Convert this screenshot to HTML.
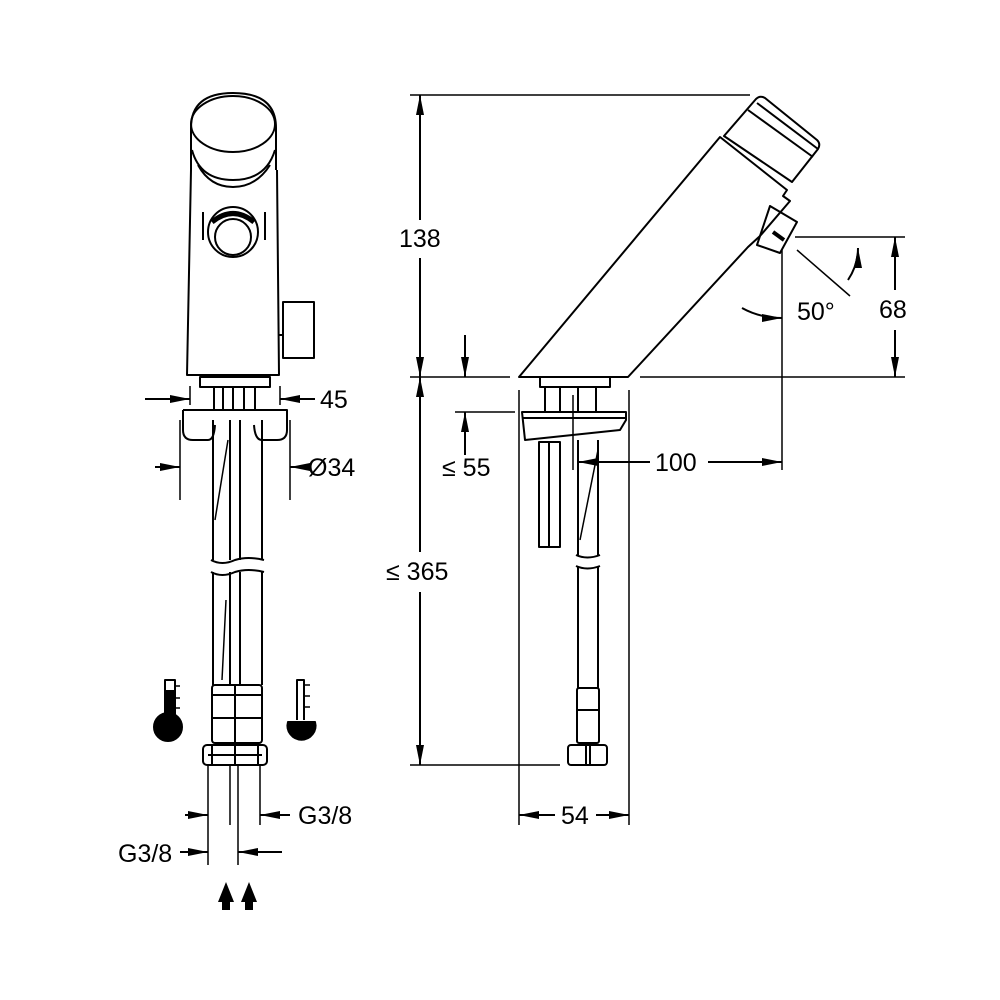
<!DOCTYPE html>
<html><head><meta charset="utf-8"><style>html,body{margin:0;background:#fff}svg{display:block}text{font-family:"Liberation Sans",sans-serif;font-size:25px;fill:#000}</style></head><body>
<svg width="1000" height="1000" viewBox="0 0 1000 1000" xmlns="http://www.w3.org/2000/svg">
<defs><marker id="a" viewBox="0 0 20 8" refX="20" refY="4" markerWidth="20" markerHeight="8" markerUnits="userSpaceOnUse" orient="auto-start-reverse"><path d="M0,0 L20,4 L0,8 Z" fill="#000"/></marker></defs>
<g fill="none" stroke="#000" stroke-width="2" stroke-linejoin="round">
<!-- LEFT VIEW -->
<path d="M191,170 L191,128 Q191,93 233,93 Q276,93 276,128 L276,170"/>
<ellipse cx="233" cy="124" rx="42" ry="28"/>
<path d="M192,150 Q200,180 233,180 Q266,180 275,150"/>
<path d="M198,165 Q210,187 233,187 Q256,187 270,165"/>
<path d="M191,170 L187,375 L279,375 L277,170"/>
<path d="M203,212 L203,240 M265,212 L265,240"/>
<circle cx="233" cy="232" r="25"/><circle cx="233" cy="237" r="18"/>
<path d="M212,222 Q233,205 254,222" stroke-width="5"/>
<rect x="283" y="302" width="31" height="56"/>
<path d="M279,335 L283,335"/>
<rect x="200" y="377" width="70" height="10"/>
<path d="M214,387 V410 M223,387 V410 M233,387 V410 M244,387 V410 M255,387 V410"/>
<path d="M183,410 H287 V430 Q287,440 277,440 H262 Q255,440 254,425 M183,410 V430 Q183,440 193,440 H208 Q214,440 215,425"/>
<path d="M213,420 V560 M230,420 V560 M240,420 V560 M262,420 V560"/>
<path d="M213,572 V685 M230,572 V685 M240,572 V685 M262,572 V685"/>
<path d="M211,560 Q222,566 235,560 Q248,556 264,560 M211,572 Q222,578 235,572 Q248,568 264,572"/>
<path d="M228,440 L215,520 M226,600 L222,680" stroke-width="1.5"/>
<rect x="212" y="685" width="50" height="58" rx="3"/>
<path d="M212,695 H262 M212,718 H262 M235,685 V745"/>
<rect x="203" y="745" width="64" height="20" rx="4"/>
<path d="M208,755 H262 M212,745 V765 M235,745 V765 M258,745 V765"/>
<!-- thermometers -->
<rect x="165" y="680" width="10" height="40"/><circle cx="168" cy="727" r="14" fill="#000"/>
<rect x="164" y="690" width="10" height="32" fill="#000" stroke="none"/>
<path d="M175,686 H180 M175,698 H180 M175,708 H180" stroke-width="1.5"/>
<path d="M297,720 V680 H304 V720"/><path d="M304,685 H310 M304,696 H310 M304,707 H310" stroke-width="1.5"/>
<path d="M288,722 A14,14 0 1 0 315,722 Z" fill="#000"/>
<!-- left dims -->
<path d="M190,386 V405 M280,386 V405 M180,420 V500 M290,420 V500" stroke-width="1.5"/>
<path d="M145,399 H190" marker-end="url(#a)"/><path d="M315,399 H280" marker-end="url(#a)"/>
<path d="M155,467 H180" marker-end="url(#a)"/><path d="M303,467 H290" marker-end="url(#a)"/>
<path d="M208,765 V865 M230,765 V825 M238,765 V865 M260,765 V825" stroke-width="1.5"/>
<path d="M185,815 H208" marker-end="url(#a)"/><path d="M290,815 H260" marker-end="url(#a)"/>
<path d="M180,852 H208" marker-end="url(#a)"/><path d="M282,852 H238" marker-end="url(#a)"/>
<!-- RIGHT VIEW -->
<path d="M519,377 L720,137 L787,190 L783,196 L790,201 L760,236 L748,247 L628,377 Z"/>
<path d="M724,136 L756,99 Q760,95 765,98 L817,140 Q821,144 818,149 L792,182 Z"/>
<path d="M748,110 L813,157" />
<path d="M757,103 L818,149"/>
<path d="M770,206 L797,222 L780,253 L757,245 Z"/>
<path d="M773,232 L784,240" stroke-width="4"/>
<rect x="540" y="377" width="70" height="10"/>
<path d="M545,387 V412 M560,387 V412 M578,387 V412 M596,387 V412"/>
<path d="M522,412 H626 V420 L620,430 L525,440 Z"/><path d="M522,418 H626"/>
<rect x="539" y="442" width="21" height="105"/><path d="M549,442 V547"/>
<path d="M578,440 V555 M598,440 V555 M578,566 V688 M598,566 V688"/>
<path d="M576,555 Q587,560 600,555 M576,566 Q587,571 600,566"/>
<path d="M598,450 L580,540" stroke-width="1.5"/>
<rect x="577" y="688" width="22" height="55" rx="2"/><path d="M577,710 H599"/>
<rect x="568" y="745" width="39" height="20" rx="3"/><path d="M586,745 V765 M590,745 V765"/>
<path d="M573,395 V470" stroke-width="1.5"/>
<!-- right dims -->
<g stroke-width="1.5">
<path d="M410,95 H750 M410,377 H510 M640,377 H905 M455,412 H515 M410,765 H560 M795,237 H905 M519,390 V825 M629,390 V825 M782,250 V470"/>
<path d="M797,250 L850,296"/>
</g>
<path d="M420,220 V95" marker-end="url(#a)"/><path d="M420,258 V377" marker-end="url(#a)"/>
<path d="M420,552 V377" marker-end="url(#a)"/><path d="M420,592 V765" marker-end="url(#a)"/>
<path d="M465,335 V377" marker-end="url(#a)"/><path d="M465,455 V412" marker-end="url(#a)"/>
<path d="M895,290 V237" marker-end="url(#a)"/><path d="M895,330 V377" marker-end="url(#a)"/>
<path d="M708,462 H782" marker-end="url(#a)"/><path d="M650,462 H578" marker-end="url(#a)"/>
<path d="M555,815 H519" marker-end="url(#a)"/><path d="M596,815 H629" marker-end="url(#a)"/>
<path d="M742,308 Q760,318 782,318" marker-end="url(#a)"/>
<path d="M848,280 Q858,265 858,248" marker-end="url(#a)"/>
</g>
<path d="M218,902 L226,882 L234,902 H230 V910 H222 V902 Z M241,902 L249,882 L257,902 H253 V910 H245 V902 Z" fill="#000"/>
<text x="320" y="408">45</text>
<text x="308" y="476">Ø34</text>
<text x="298" y="824">G3/8</text>
<text x="118" y="862">G3/8</text>
<text x="399" y="247">138</text>
<text x="879" y="318">68</text>
<text x="797" y="320">50°</text>
<text x="655" y="471">100</text>
<text x="442" y="476">≤ 55</text>
<text x="386" y="580">≤ 365</text>
<text x="561" y="824">54</text>
</svg>
</body></html>
